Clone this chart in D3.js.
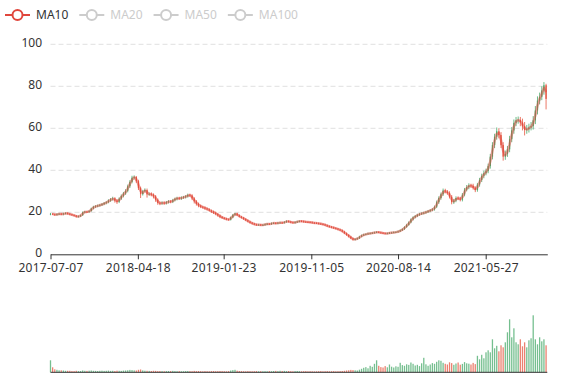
<!DOCTYPE html>
<html><head><meta charset="utf-8">
<script src="https://cdn.jsdelivr.net/npm/d3@7/dist/d3.min.js"></script>
<style>body{margin:0;background:#fff} svg{display:block;font-family:"Noto Sans",sans-serif}</style>
</head><body><svg id="c" width="577" height="380"></svg>
<script>
const startDate = "2017-07-07";
const axisEnd = "2021-12-14";
const tickLabels = ["2017-07-07","2018-04-18","2019-01-23","2019-11-05","2020-08-14","2021-05-27"];
const yTicks = [0,20,40,60,80,100];
const legendNames = ["MA10","MA20","MA50","MA100"];
const legendSelected = [true,false,false,false];

const open = [19.0,19.3,19.0,18.8,19.1,19.3,19.0,19.4,19.6,19.3,
19.0,18.7,18.4,17.9,18.1,18.6,20.0,20.3,20.1,20.6,
21.8,22.6,22.9,23.2,23.5,23.9,24.4,24.8,25.6,26.2,
26.6,25.6,25.0,26.5,27.8,29.0,30.2,32.4,34.5,36.5,
36.8,34.8,31.5,28.6,30.0,30.6,28.5,28.8,28.4,27.6,
26.0,24.5,24.2,24.6,24.3,24.8,25.2,25.0,25.8,26.4,
26.8,26.5,27.0,27.2,27.6,28.3,28.0,26.6,25.2,24.0,
23.2,22.6,22.3,21.8,21.4,20.8,20.3,19.8,19.2,18.5,
17.8,17.3,17.0,16.6,16.5,17.6,18.8,19.4,18.6,17.9,
17.4,16.8,16.2,15.6,15.0,14.6,14.2,14.0,14.1,13.9,
14.0,14.3,14.5,14.4,14.8,14.9,14.7,15.0,15.1,15.0,
15.4,15.8,15.5,15.2,15.0,15.3,15.6,15.8,15.7,15.5,
15.4,15.3,15.2,15.0,14.9,14.8,14.6,14.4,14.2,13.8,
13.4,13.1,12.8,12.5,12.2,11.8,11.4,10.8,10.0,9.2,
8.4,7.6,7.0,7.2,7.6,8.4,9.0,9.4,9.6,9.9,
10.0,10.2,10.4,10.6,10.4,10.2,10.0,9.9,10.0,10.2,
10.3,10.5,10.6,10.9,11.4,12.0,13.0,14.0,15.2,16.6,
17.6,18.2,18.8,19.2,19.5,19.8,20.2,20.6,21.0,21.4,
22.6,24.8,26.8,28.6,30.4,29.8,29.2,27.4,24.8,25.6,
26.8,26.6,26.0,28.4,30.8,32.0,32.8,32.6,31.6,30.6,
33.2,35.4,37.4,38.6,39.6,42.0,46.5,52.0,56.0,58.6,
56.8,52.0,46.5,47.8,50.0,54.8,59.0,62.6,63.8,64.0,
62.8,61.0,59.2,59.6,60.4,61.0,63.8,68.5,73.2,75.0,
78.0,80.5];

const close = [19.3,19.0,18.8,19.1,19.3,19.0,19.4,19.6,19.3,19.0,
18.7,18.4,17.9,18.1,18.6,20.0,20.3,20.1,20.6,21.8,
22.6,22.9,23.2,23.5,23.9,24.4,24.8,25.6,26.2,26.6,
25.6,25.0,26.5,27.8,29.0,30.2,32.4,34.5,36.5,36.8,
34.8,31.5,28.6,30.0,30.6,28.5,28.8,28.4,27.6,26.0,
24.5,24.2,24.6,24.3,24.8,25.2,25.0,25.8,26.4,26.8,
26.5,27.0,27.2,27.6,28.3,28.0,26.6,25.2,24.0,23.2,
22.6,22.3,21.8,21.4,20.8,20.3,19.8,19.2,18.5,17.8,
17.3,17.0,16.6,16.5,17.6,18.8,19.4,18.6,17.9,17.4,
16.8,16.2,15.6,15.0,14.6,14.2,14.0,14.1,13.9,14.0,
14.3,14.5,14.4,14.8,14.9,14.7,15.0,15.1,15.0,15.4,
15.8,15.5,15.2,15.0,15.3,15.6,15.8,15.7,15.5,15.4,
15.3,15.2,15.0,14.9,14.8,14.6,14.4,14.2,13.8,13.4,
13.1,12.8,12.5,12.2,11.8,11.4,10.8,10.0,9.2,8.4,
7.6,7.0,7.2,7.6,8.4,9.0,9.4,9.6,9.9,10.0,
10.2,10.4,10.6,10.4,10.2,10.0,9.9,10.0,10.2,10.3,
10.5,10.6,10.9,11.4,12.0,13.0,14.0,15.2,16.6,17.6,
18.2,18.8,19.2,19.5,19.8,20.2,20.6,21.0,21.4,22.6,
24.8,26.8,28.6,30.4,29.8,29.2,27.4,24.8,25.6,26.8,
26.6,26.0,28.4,30.8,32.0,32.8,32.6,31.6,30.6,33.2,
35.4,37.4,38.6,39.6,42.0,46.5,52.0,56.0,58.6,56.8,
52.0,46.5,47.8,50.0,54.8,59.0,62.6,63.8,64.0,62.8,
61.0,59.2,59.6,60.4,61.0,63.8,68.5,73.2,75.0,78.0,
80.5,74.0];

const high = [19.7,19.7,19.4,19.5,19.7,19.7,19.8,20.0,20.0,19.7,
19.3,19.0,18.7,18.5,18.9,20.4,20.7,20.7,21.0,22.2,
23.1,23.4,23.7,24.0,24.4,24.9,25.3,26.2,26.8,27.4,
27.2,26.2,27.1,28.5,29.7,31.0,33.2,35.3,37.4,37.6,
37.3,35.5,32.2,30.7,31.4,31.3,29.5,29.5,29.0,28.2,
26.6,25.1,25.2,25.2,25.4,25.8,25.8,26.4,27.0,27.4,
27.4,27.6,27.8,28.2,28.9,28.9,28.6,27.2,25.8,24.6,
23.7,23.1,22.8,22.3,21.9,21.3,20.8,20.3,19.7,19.0,
18.2,17.7,17.4,17.0,18.0,19.2,19.8,19.8,19.0,18.3,
17.8,17.2,16.6,16.0,15.4,15.0,14.6,14.5,14.5,14.4,
14.7,14.9,14.9,15.2,15.3,15.3,15.4,15.5,15.5,15.8,
16.2,16.2,15.9,15.6,15.7,16.0,16.2,16.2,16.1,15.9,
15.8,15.7,15.6,15.4,15.3,15.2,15.0,14.8,14.6,14.2,
13.8,13.5,13.2,12.9,12.6,12.2,11.8,11.2,10.4,9.6,
8.8,8.0,7.6,8.0,8.8,9.4,9.8,10.0,10.3,10.4,
10.6,10.8,11.0,11.0,10.8,10.6,10.4,10.4,10.6,10.7,
10.9,11.0,11.3,11.8,12.4,13.4,14.5,15.7,17.1,18.1,
18.7,19.3,19.7,20.0,20.3,20.7,21.1,21.5,22.0,23.2,
25.6,27.6,29.4,31.3,31.2,30.6,30.0,28.2,26.4,27.6,
27.6,27.4,29.2,31.6,33.0,33.8,33.6,33.6,32.4,34.0,
36.4,38.4,39.8,40.8,43.2,47.8,53.4,57.4,60.4,60.0,
58.2,53.4,49.4,51.6,56.4,60.6,64.2,65.4,65.6,65.4,
64.6,63.0,61.6,62.2,63.0,65.8,70.6,75.2,77.0,80.0,
82.0,81.2];

const low = [18.6,18.7,18.4,18.4,18.7,18.6,18.6,19.0,18.9,18.6,
18.4,18.0,17.5,17.5,17.8,18.3,19.6,19.7,19.8,20.3,
21.4,22.1,22.4,22.7,23.0,23.4,23.8,24.3,25.0,25.6,
24.6,24.0,24.4,25.9,27.1,28.3,29.5,31.6,33.8,35.6,
34.0,30.6,26.8,28.0,29.6,27.0,27.9,27.6,26.6,25.0,
23.6,23.4,23.6,23.6,23.7,24.2,24.3,24.4,25.2,25.7,
25.9,25.9,26.4,26.6,27.0,27.4,25.8,24.2,23.2,22.4,
22.0,21.7,21.2,20.8,20.3,19.7,19.2,18.6,17.9,17.2,
16.9,16.6,16.2,16.1,16.1,17.2,18.4,18.2,17.5,17.0,
16.4,15.8,15.2,14.6,14.2,13.8,13.6,13.6,13.5,13.5,
13.6,13.9,14.0,14.0,14.4,14.3,14.3,14.6,14.6,14.6,
15.0,15.1,14.8,14.6,14.6,14.9,15.2,15.3,15.1,15.0,
14.9,14.8,14.6,14.5,14.4,14.2,14.0,13.8,13.4,13.0,
12.7,12.4,12.1,11.8,11.4,11.0,10.4,9.6,8.8,8.0,
7.2,6.5,6.6,6.9,7.3,8.1,8.7,9.1,9.3,9.6,
9.7,9.9,10.1,10.1,9.9,9.7,9.6,9.6,9.7,9.9,
10.0,10.2,10.3,10.6,11.1,11.6,12.6,13.6,14.8,16.1,
17.1,17.7,18.3,18.7,19.0,19.3,19.7,20.1,20.5,20.8,
22.0,24.0,26.0,27.8,29.0,28.4,26.6,23.8,24.0,24.8,
25.8,25.2,25.2,27.6,30.0,31.0,31.6,30.8,29.6,29.8,
32.2,34.4,36.2,37.6,38.6,40.8,45.2,50.6,54.6,55.2,
50.6,44.6,45.0,46.4,48.6,53.4,57.4,61.0,62.2,61.0,
59.0,56.6,57.4,58.0,59.0,59.4,62.0,66.6,71.4,73.4,
76.0,69.0];

const volume = [12,5,3,2.5,2,2,1.8,1.5,1.5,1.5,
1.2,1.2,1.5,1.2,1.3,1.8,1.5,1.4,1.6,1.8,
1.5,1.4,1.3,1.5,1.6,1.4,1.5,1.7,1.4,1.5,
1.3,1.6,1.5,1.4,1.7,1.8,2.0,2.4,2.2,1.9,
1.8,2.5,2.8,1.9,1.6,1.5,1.4,1.3,1.5,1.4,
1.2,1.3,1.2,1.1,1.2,1.3,1.2,1.4,1.2,1.1,
1.2,1.0,1.1,1.2,1.3,1.2,1.1,1.4,1.2,1.3,
1.1,1.0,1.2,1.1,1.0,1.2,1.3,1.1,1.2,1.3,
1.2,1.1,1.0,1.2,1.8,2.2,2.5,1.6,1.3,1.2,
1.1,1.0,1.2,1.1,1.0,1.1,1.2,1.0,1.1,1.0,
1.1,1.0,1.2,1.1,1.3,1.4,1.2,1.5,1.3,1.4,
1.2,1.3,1.1,1.0,1.2,1.3,1.1,1.0,1.1,1.2,
1.0,1.1,1.0,0.9,1.0,1.1,1.2,1.0,1.1,1.2,
1.0,1.1,1.2,1.0,1.1,1.2,1.3,1.5,1.8,2.0,
2.4,2.2,2.0,1.8,2.6,3.5,4.5,5.2,4.0,6.5,
5.5,8.5,12,6.5,5.2,4.8,6.2,5.0,7.8,5.6,
4.8,6.0,5.5,9.5,7.2,6.5,8.0,7.4,9.8,8.5,
6.8,7.5,6.2,9.0,14.5,8.0,6.5,7.8,9.2,8.5,
10.5,12.0,11.5,9.5,8.5,7.8,10.0,9.2,7.5,8.8,
9.8,7.6,8.4,10.2,9.0,8.6,7.8,9.4,8.2,16.5,
13.0,17.5,14.0,20.0,22.0,20.0,33.0,24.0,26.5,21.0,
27.0,25.0,30.0,40.0,53.0,35.0,44.0,30.0,28.0,33.0,
26.0,30.0,25.0,32.0,34.0,57.0,33.0,28.0,35.0,31.0,
33.0,27.0];

const upColor = "#47a96a", downColor = "#e4553f", maColor = "#e0463c";
const parse = d3.timeParse("%Y-%m-%d"), fmt = d3.timeFormat("%Y-%m-%d");
const t0 = parse(startDate);
const data = close.map((c, i) => ({
  date: d3.timeDay.offset(t0, 7 * i),
  o: open[i], c: c, h: high[i], l: low[i], v: volume[i]
}));

const svg = d3.select("#c");
const x = d3.scaleTime().domain([t0, parse(axisEnd)]).range([50.5, 547.3]);
const y = d3.scaleLinear().domain([0, 100]).range([254.3, 44.3]);
const yV = d3.scaleLinear().domain([0, 60]).range([372.3, 312.3]);
const step = x(d3.timeDay.offset(t0, 7)) - x(t0);
const bw = step * 0.6;

// grid lines
svg.append("g").selectAll("line").data(yTicks.filter(v => v > 0)).join("line")
  .attr("x1", x.range()[0]).attr("x2", x.range()[1])
  .attr("y1", d => y(d)).attr("y2", d => y(d))
  .attr("stroke", "#e0e0e0").attr("stroke-dasharray", "5,3");

// y labels
svg.append("g").selectAll("text").data(yTicks).join("text")
  .attr("x", 42).attr("y", d => y(d) - 1.5).attr("dy", "0.35em")
  .attr("text-anchor", "end").attr("font-size", 12).attr("fill", "#333")
  .text(d => d);

// candles
const cg = svg.append("g");
const col = d => d.c >= d.o ? upColor : downColor;
cg.selectAll("line").data(data).join("line")
  .attr("x1", d => x(d.date)).attr("x2", d => x(d.date))
  .attr("y1", d => y(d.h)).attr("y2", d => y(d.l))
  .attr("stroke", col).attr("stroke-width", 0.8);
cg.selectAll("rect").data(data).join("rect")
  .attr("x", d => x(d.date) - bw / 2).attr("width", bw)
  .attr("y", d => y(Math.max(d.o, d.c)))
  .attr("height", d => Math.max(0.8, Math.abs(y(d.o) - y(d.c))))
  .attr("fill", col);

// MA10 (10 trading days = 2 weekly points)
const ma = data.map((d, i) => i < 1 ? null : { date: d.date, v: (data[i].c + data[i - 1].c) / 2 }).filter(Boolean);
svg.append("path").datum(ma)
  .attr("d", d3.line().x(d => x(d.date)).y(d => y(d.v)))
  .attr("fill", "none").attr("stroke", maColor).attr("stroke-width", 2.5)
  .attr("stroke-opacity", 0.5).attr("stroke-linejoin", "round");

// x axis
const xAxis = d3.axisBottom(x).tickValues(tickLabels.map(parse)).tickFormat(fmt)
  .tickSizeInner(5).tickSizeOuter(0).tickPadding(4);
const ax = svg.append("g").attr("transform", "translate(0,254.3)").call(xAxis);
ax.select(".domain").attr("stroke", "#333");
ax.selectAll(".tick line").attr("stroke", "#333");
ax.selectAll("text").attr("font-size", 12).attr("fill", "#333")
  .attr("font-family", "Noto Sans, sans-serif").attr("letter-spacing", "0.25px");

// volume
svg.append("g").selectAll("rect").data(data).join("rect")
  .attr("x", d => x(d.date) - bw / 2).attr("width", bw)
  .attr("y", d => yV(d.v)).attr("height", d => yV(0) - yV(d.v))
  .attr("fill", col).attr("fill-opacity", 0.75);
svg.append("line").attr("x1", x.range()[0]).attr("x2", x.range()[1])
  .attr("y1", yV(0)).attr("y2", yV(0)).attr("stroke", "#333");

// legend
const lg = svg.append("g");
let lx = 5;
legendNames.forEach((n, i) => {
  const c = legendSelected[i] ? maColor : "#ccc";
  const g = lg.append("g").attr("transform", `translate(${lx},15)`);
  g.append("line").attr("x1", 0).attr("x2", 25).attr("stroke", c).attr("stroke-width", 2);
  g.append("circle").attr("cx", 12.5).attr("r", 5).attr("fill", "#fff").attr("stroke", c).attr("stroke-width", 2);
  const t = g.append("text").attr("x", 31).attr("dy", "0.35em").attr("font-size", 12)
    .attr("fill", legendSelected[i] ? "#333" : "#ccc").text(n);
  lx += 31 + t.node().getComputedTextLength() + 11;
});
</script></body></html>
